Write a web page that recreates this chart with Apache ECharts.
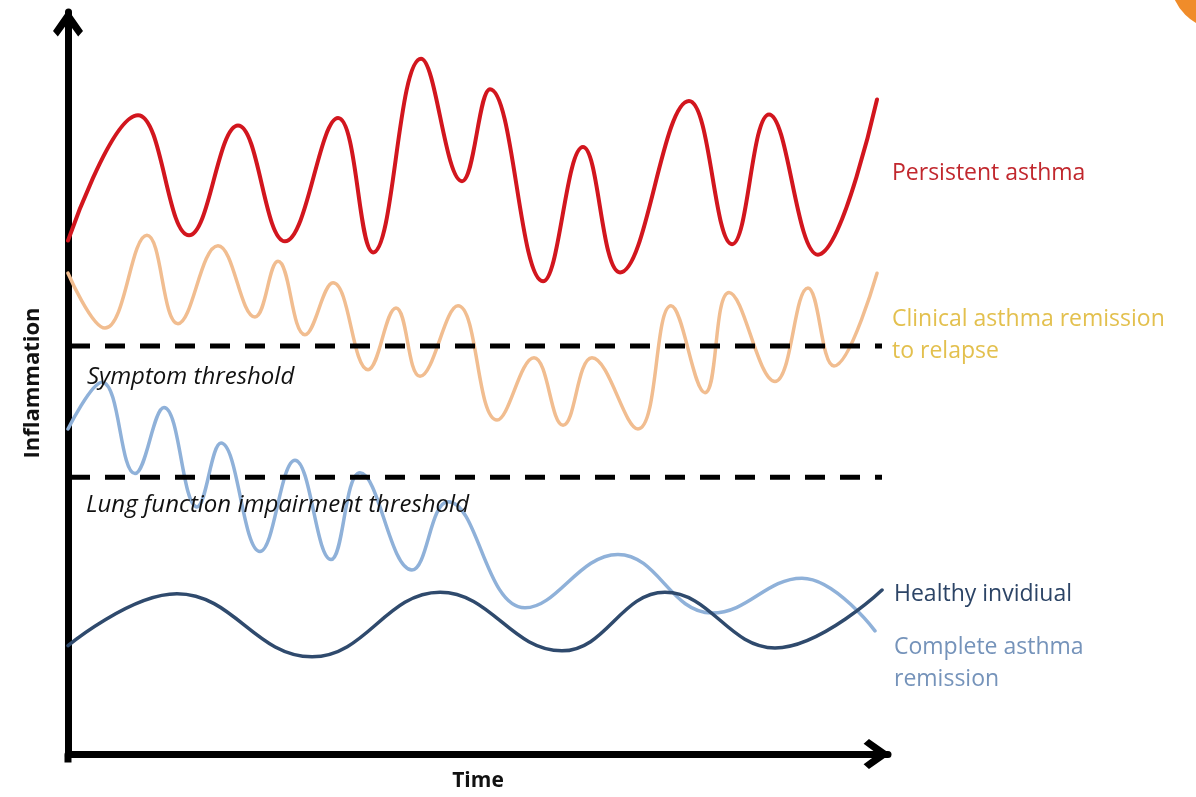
<!DOCTYPE html>
<html>
<head>
<meta charset="utf-8">
<script src="https://cdn.jsdelivr.net/npm/echarts@6/dist/echarts.min.js"></script>
<style>
html,body{margin:0;padding:0;background:#fff;}
#chart{width:1196px;height:797px;}
</style>
</head>
<body>
<div id="chart"></div>
<script>
// Conceptual curves: [time, inflammation] (time 0..100, inflammation 0..100)
const persistentAsthma = [[0,69.2],[8.54,86.1],[14.76,69.9],[20.73,84.7],[26.46,69.1],[32.93,85.7],[37.2,67.6],[43.05,93.7],[48.05,77.2],[51.46,89.6],[57.93,63.7],[62.8,81.8],[67.32,64.9],[75.73,88.0],[80.98,68.7],[85.49,86.2],[91.46,67.3],[98.66,88.2]];
const clinicalRemission = [[0,64.8],[4.51,57.4],[9.63,69.9],[13.41,58.0],[18.29,68.5],[22.8,58.9],[25.61,66.4],[28.9,56.5],[32.32,63.5],[36.59,51.8],[40.0,60.1],[42.93,50.9],[47.56,60.4],[52.32,45.0],[56.83,53.4],[60.37,44.3],[63.9,53.4],[69.51,43.8],[73.54,60.4],[77.68,48.7],[80.61,62.2],[86.22,50.2],[90.24,62.8],[93.41,52.3],[98.66,64.8]];
const completeRemission = [[0,43.8],[4.15,50.1],[8.17,37.8],[11.71,46.7],[15.73,33.3],[18.66,41.9],[23.41,27.3],[27.68,39.6],[32.07,26.2],[35.61,37.9],[41.95,24.8],[46.34,34.0],[55.73,19.7],[67.07,26.9],[78.54,19.0],[89.51,23.7],[98.41,16.6]];
const healthyIndividual = [[0,14.6],[13.29,21.6],[29.76,13.1],[45.37,21.8],[60.24,13.9],[72.8,21.8],[86.22,14.3],[99.27,22.1]];
const symptomThreshold = 55.0;
const lungThreshold = 37.3;
const thresholdSpan = [0, 99.27];

const chevron = 'path://M14,0 L28,20 L23.5,25 L14,12 L4.5,25 L0,20 Z';
const chart = echarts.init(document.getElementById('chart'));

function curve(name, data, color, width) {
  return { name, type: 'line', data, smooth: 0.42, showSymbol: false, silent: true,
    lineStyle: { color, width, cap: 'round', join: 'round' }, z: 3 };
}
function threshold(name, value) {
  return { name, type: 'line', data: thresholdSpan.map(t => [t, value]), showSymbol: false, silent: true,
    lineStyle: { color: '#000', width: 5, type: [20, 15], dashOffset: -2 }, z: 5 };
}

const labelFont = '"Open Sans", Lato, sans-serif';
function label(text, x, y, color, size, italic, bold) {
  return { type: 'text', x, y, z: 20, silent: true,
    style: { text, fill: color, font: (italic ? 'italic ' : '') + (bold ? 'bold ' : '') + size + 'px ' + labelFont, verticalAlign: 'middle', align: 'left' } };
}

chart.setOption({
  animation: false,
  backgroundColor: '#fff',
  grid: { left: 68, right: 308, top: 12, bottom: 38, containLabel: false },
  xAxis: {
    type: 'value', min: 0, max: 100,
    name: 'Time', nameLocation: 'middle', nameGap: 17,
    nameTextStyle: { color: '#111', fontSize: 21, fontWeight: 'bold', fontFamily: labelFont },
    axisLine: { show: true, onZero: false, symbol: ['none', chevron], symbolSize: [30, 27], symbolOffset: [0, -11],
      lineStyle: { color: '#000', width: 7 } },
    axisTick: { show: false }, axisLabel: { show: false }, splitLine: { show: false }
  },
  yAxis: {
    type: 'value', min: 0, max: 100,
    name: 'Inflammation', nameLocation: 'middle', nameGap: 24,
    nameTextStyle: { color: '#111', fontSize: 22, fontWeight: 'bold', fontFamily: labelFont },
    axisLine: { show: true, onZero: false, symbol: ['none', chevron], symbolSize: [30, 27], symbolOffset: [0, -11],
      lineStyle: { color: '#000', width: 7 } },
    axisTick: { show: false }, axisLabel: { show: false }, splitLine: { show: false }
  },
  series: [
    curve('Persistent asthma', persistentAsthma, '#D2161E', 4),
    curve('Clinical asthma remission to relapse', clinicalRemission, '#F1BD90', 3.5),
    curve('Complete asthma remission', completeRemission, '#8FB1D9', 3.5),
    curve('Healthy invidiual', healthyIndividual, '#2F4A6D', 3.5),
    threshold('Symptom threshold', symptomThreshold),
    threshold('Lung function impairment threshold', lungThreshold)
  ],
  graphic: [
    { type: 'rect', shape: { x: 64.5, y: 755.5, width: 7, height: 7 }, style: { fill: '#000' }, z: 10, silent: true },
    { type: 'circle', shape: { cx: 1222, cy: -22, r: 52 }, style: { fill: '#F08C2A' }, z: 10, silent: true },
    label('Persistent asthma', 892, 173, '#C1272D', 23),
    label('Clinical asthma remission', 892, 319, '#E3C04E', 23),
    label('to relapse', 892, 351, '#E3C04E', 23),
    label('Healthy invidiual', 894, 594, '#2C4466', 23),
    label('Complete asthma', 894, 647, '#7593BA', 23),
    label('remission', 894, 679, '#7593BA', 23),
    label('Symptom threshold', 87, 377, '#111', 24, true),
    label('Lung function impairment threshold', 86, 505, '#111', 24, true)
  ]
});
</script>
</body>
</html>
